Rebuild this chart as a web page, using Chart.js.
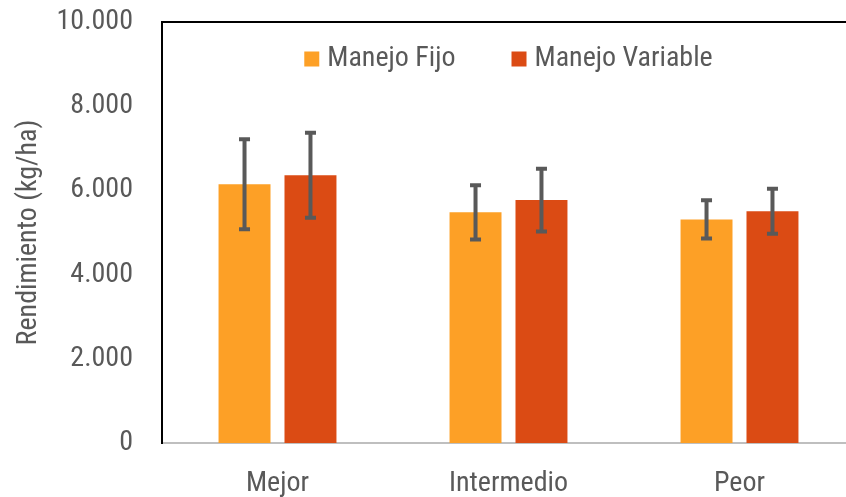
<!DOCTYPE html>
<html>
<head>
<meta charset="utf-8">
<script src="https://cdn.jsdelivr.net/npm/chart.js@4.4.0/dist/chart.umd.min.js"></script>
<style>
  html, body { margin: 0; padding: 0; background: #fff; overflow: hidden; }
  #wrap { position: relative; width: 870px; height: 497px; }
</style>
</head>
<body>
<div id="wrap"><canvas id="chart"></canvas></div>
<script>
// data
var categories = ['Mejor', 'Intermedio', 'Peor'];
var seriesNames = ['Manejo Fijo', 'Manejo Variable'];
var fijo = [6145, 5480, 5310];
var variable = [6360, 5770, 5505];
var fijoErr = [1070, 645, 455];
var variableErr = [1010, 745, 535];
var yTicks = [0, 2000, 4000, 6000, 8000, 10000];

var FONT = "'Roboto Condensed', Roboto, sans-serif";
var TEXT = '#595959';

function fmt(v) {
    return String(v).replace(/\B(?=(\d{3})+(?!\d))/g, '.');
}

// vertical error bars on top of every bar
var errorBars = {
    id: 'errorBars',
    afterDatasetsDraw: function(chart) {
        var ctx = chart.ctx;
        var y = chart.scales.y;
        var errs = [fijoErr, variableErr];
        ctx.save();
        ctx.strokeStyle = TEXT;
        ctx.lineWidth = 4;
        chart.data.datasets.forEach(function(ds, i) {
            chart.getDatasetMeta(i).data.forEach(function(bar, j) {
                var hi = y.getPixelForValue(ds.data[j] + errs[i][j]);
                var lo = y.getPixelForValue(ds.data[j] - errs[i][j]);
                ctx.beginPath();
                ctx.moveTo(bar.x, hi); ctx.lineTo(bar.x, lo);
                ctx.moveTo(bar.x - 5.5, hi); ctx.lineTo(bar.x + 5.5, hi);
                ctx.moveTo(bar.x - 5.5, lo); ctx.lineTo(bar.x + 5.5, lo);
                ctx.stroke();
            });
        });
        ctx.restore();
    }
};

// top edge of the plot box and the legend inside it
var frame = {
    id: 'frame',
    afterDraw: function(chart) {
        var a = chart.chartArea, ctx = chart.ctx;
        ctx.save();
        ctx.strokeStyle = '#000';
        ctx.lineWidth = 2;
        ctx.beginPath();
        ctx.moveTo(a.left - 1, a.top);
        ctx.lineTo(a.right, a.top);
        ctx.stroke();

        // legend, centred over the plot
        ctx.font = '28px ' + FONT;
        ctx.textBaseline = 'middle';
        var box = 15, gap = 8, between = 56;
        var items = chart.data.datasets.map(function(ds) {
            return { text: ds.label, color: ds.backgroundColor, w: ctx.measureText(ds.label).width };
        });
        var total = items.reduce(function(s, it) { return s + box + gap + it.w; }, 0) + between * (items.length - 1);
        var x = (a.left + a.right) / 2 - total / 2;
        var cy = a.top + 37;
        items.forEach(function(it) {
            ctx.fillStyle = it.color;
            ctx.fillRect(x, cy - box / 2, box, box);
            ctx.fillStyle = TEXT;
            ctx.fillText(it.text, x + box + gap, cy);
            x += box + gap + it.w + between;
        });
        ctx.restore();
    }
};

var ctx = document.getElementById('chart');
var chart = new Chart(ctx, {
    type: 'bar',
    data: {
        labels: categories,
        datasets: [
            { label: seriesNames[0], data: fijo, backgroundColor: '#FDA026' },
            { label: seriesNames[1], data: variable, backgroundColor: '#DB4B14' }
        ]
    },
    options: {
        responsive: true,
        maintainAspectRatio: false,
        animation: false,
        layout: { padding: { top: 22, right: 15, bottom: 0, left: 0 } },
        datasets: { bar: { categoryPercentage: 0.571, barPercentage: 0.788 } },
        plugins: {
            tooltip: { enabled: false },
            legend: { display: false }
        },
        scales: {
            x: {
                grid: { display: false, drawTicks: false },
                border: { color: '#bfbfbf', width: 2 },
                ticks: { color: TEXT, padding: 24, font: { family: FONT, size: 28 } },
                afterFit: function(s) { s.height = 54; }
            },
            y: {
                min: 0,
                max: 10000,
                afterBuildTicks: function(s) {
                    s.ticks = yTicks.map(function(v) { return { value: v }; });
                },
                grid: { display: false, drawTicks: false },
                border: { color: '#000', width: 2 },
                ticks: {
                    color: TEXT,
                    padding: 29,
                    font: { family: FONT, size: 28 },
                    callback: function(v) { return fmt(v); }
                },
                title: {
                    display: true,
                    text: 'Rendimiento (kg/ha)',
                    color: TEXT,
                    padding: { top: 12, bottom: 0 },
                    font: { family: FONT, size: 28 }
                },
                afterFit: function(s) {
                    s.width = 162;
                    s.paddingTop = 0;
                    s.paddingBottom = 0;
                }
            }
        }
    },
    plugins: [errorBars, frame]
});
</script>
</body>
</html>
